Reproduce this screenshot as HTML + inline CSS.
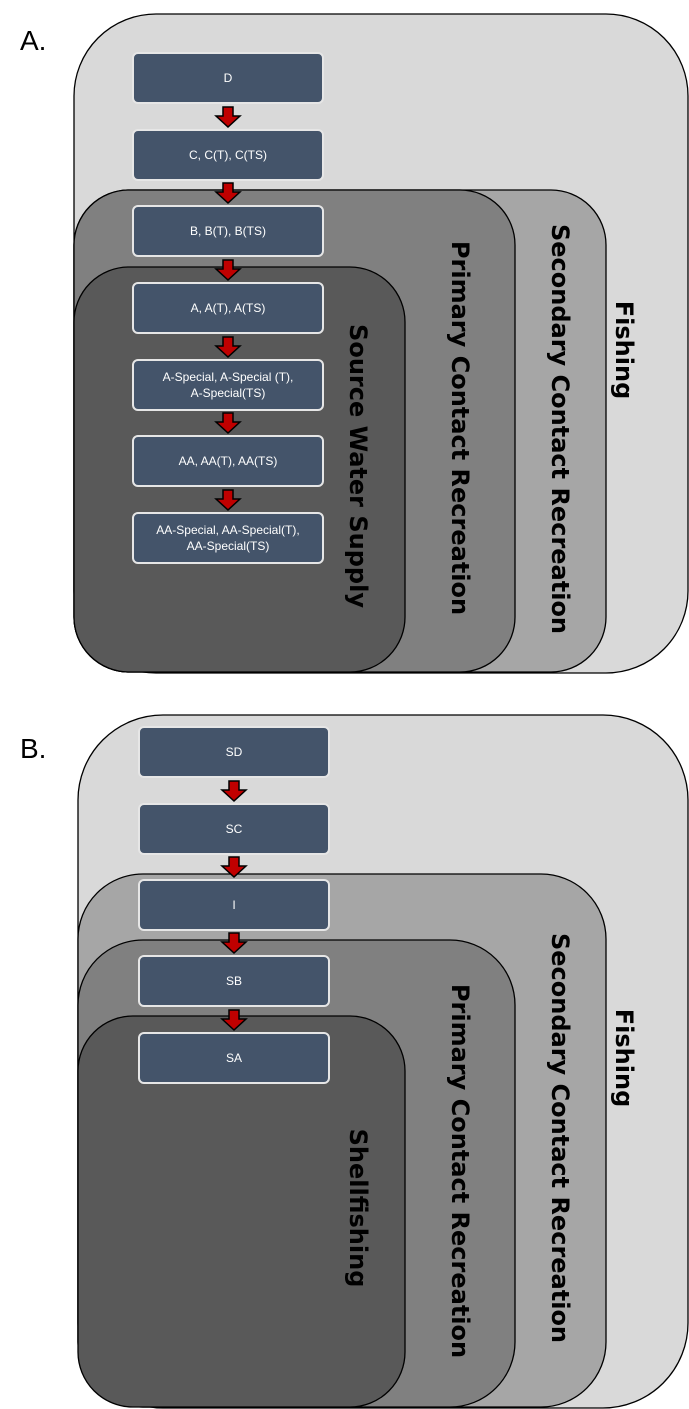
<!DOCTYPE html>
<html><head><meta charset="utf-8"><style>
html,body{margin:0;padding:0;background:#fff;}
svg{display:block;}
.bt{font-family:"Liberation Sans",sans-serif;font-size:12px;fill:#fff;text-anchor:middle;}
.lb{font-family:"DejaVu Sans",sans-serif;font-weight:bold;font-size:24px;fill:#000;text-anchor:middle;}
.hd{font-family:"Liberation Sans",sans-serif;font-size:28px;fill:#000;}
</style></head><body>
<svg width="689" height="1409" viewBox="0 0 689 1409" xmlns="http://www.w3.org/2000/svg">
<defs>
<g id="arr"><path d="M-5,0 H5 V9 H12 L0,20 L-12,9 H-5 Z" fill="#c00000" stroke="#000" stroke-width="1.5"/></g>
</defs>
<text class="hd" x="20" y="50">A.</text>
<text class="hd" x="20" y="758">B.</text>

<!-- Panel A -->
<rect x="74" y="14" width="614" height="659" rx="82" fill="#d9d9d9" stroke="#000" stroke-width="1.3"/>
<rect x="74" y="190" width="532" height="482" rx="55" fill="#a6a6a6" stroke="#000" stroke-width="1.3"/>
<rect x="74" y="190" width="441" height="482" rx="55" fill="#808080" stroke="#000" stroke-width="1.3"/>
<rect x="74" y="267" width="331" height="405" rx="55" fill="#595959" stroke="#000" stroke-width="1.3"/>
<text class="lb" transform="translate(616,350) rotate(90)">Fishing</text>
<text class="lb" transform="translate(552,429) rotate(90)">Secondary Contact Recreation</text>
<text class="lb" transform="translate(452,428) rotate(90)">Primary Contact Recreation</text>
<text class="lb" transform="translate(350,466) rotate(90)">Source Water Supply</text>

<g stroke="#e6e6e6" stroke-width="2" fill="#44546a">
<rect x="133" y="53" width="190" height="50" rx="5"/>
<rect x="133" y="130" width="190" height="50" rx="5"/>
<rect x="133" y="206" width="190" height="50" rx="5"/>
<rect x="133" y="283" width="190" height="50" rx="5"/>
<rect x="133" y="360" width="190" height="50" rx="5"/>
<rect x="133" y="436" width="190" height="50" rx="5"/>
<rect x="133" y="513" width="190" height="50" rx="5"/>
</g>
<text class="bt" x="228" y="82">D</text>
<text class="bt" x="228" y="159">C, C(T), C(TS)</text>
<text class="bt" x="228" y="235">B, B(T), B(TS)</text>
<text class="bt" x="228" y="312">A, A(T), A(TS)</text>
<text class="bt" x="228" y="381">A-Special, A-Special (T),</text>
<text class="bt" x="228" y="397">A-Special(TS)</text>
<text class="bt" x="228" y="465">AA, AA(T), AA(TS)</text>
<text class="bt" x="228" y="534">AA-Special, AA-Special(T),</text>
<text class="bt" x="228" y="550">AA-Special(TS)</text>
<use href="#arr" x="228" y="107"/>
<use href="#arr" x="228" y="183"/>
<use href="#arr" x="228" y="260"/>
<use href="#arr" x="228" y="337"/>
<use href="#arr" x="228" y="413"/>
<use href="#arr" x="228" y="490"/>

<!-- Panel B -->
<rect x="78" y="715" width="610" height="693" rx="85" fill="#d9d9d9" stroke="#000" stroke-width="1.3"/>
<rect x="78" y="874" width="528" height="533" rx="65" fill="#a6a6a6" stroke="#000" stroke-width="1.3"/>
<rect x="78" y="940" width="437" height="467" rx="65" fill="#808080" stroke="#000" stroke-width="1.3"/>
<rect x="78" y="1016" width="327" height="391" rx="55" fill="#595959" stroke="#000" stroke-width="1.3"/>
<text class="lb" transform="translate(616,1058) rotate(90)">Fishing</text>
<text class="lb" transform="translate(552,1138) rotate(90)">Secondary Contact Recreation</text>
<text class="lb" transform="translate(452,1171) rotate(90)">Primary Contact Recreation</text>
<text class="lb" transform="translate(350,1208) rotate(90)">Shellfishing</text>

<g stroke="#e6e6e6" stroke-width="2" fill="#44546a">
<rect x="139" y="727" width="190" height="50" rx="5"/>
<rect x="139" y="804" width="190" height="50" rx="5"/>
<rect x="139" y="880" width="190" height="50" rx="5"/>
<rect x="139" y="956" width="190" height="50" rx="5"/>
<rect x="139" y="1033" width="190" height="50" rx="5"/>
</g>
<text class="bt" x="234" y="756">SD</text>
<text class="bt" x="234" y="833">SC</text>
<text class="bt" x="234" y="909">I</text>
<text class="bt" x="234" y="985">SB</text>
<text class="bt" x="234" y="1062">SA</text>
<use href="#arr" x="234" y="781"/>
<use href="#arr" x="234" y="857"/>
<use href="#arr" x="234" y="933"/>
<use href="#arr" x="234" y="1010"/>
</svg>
</body></html>
